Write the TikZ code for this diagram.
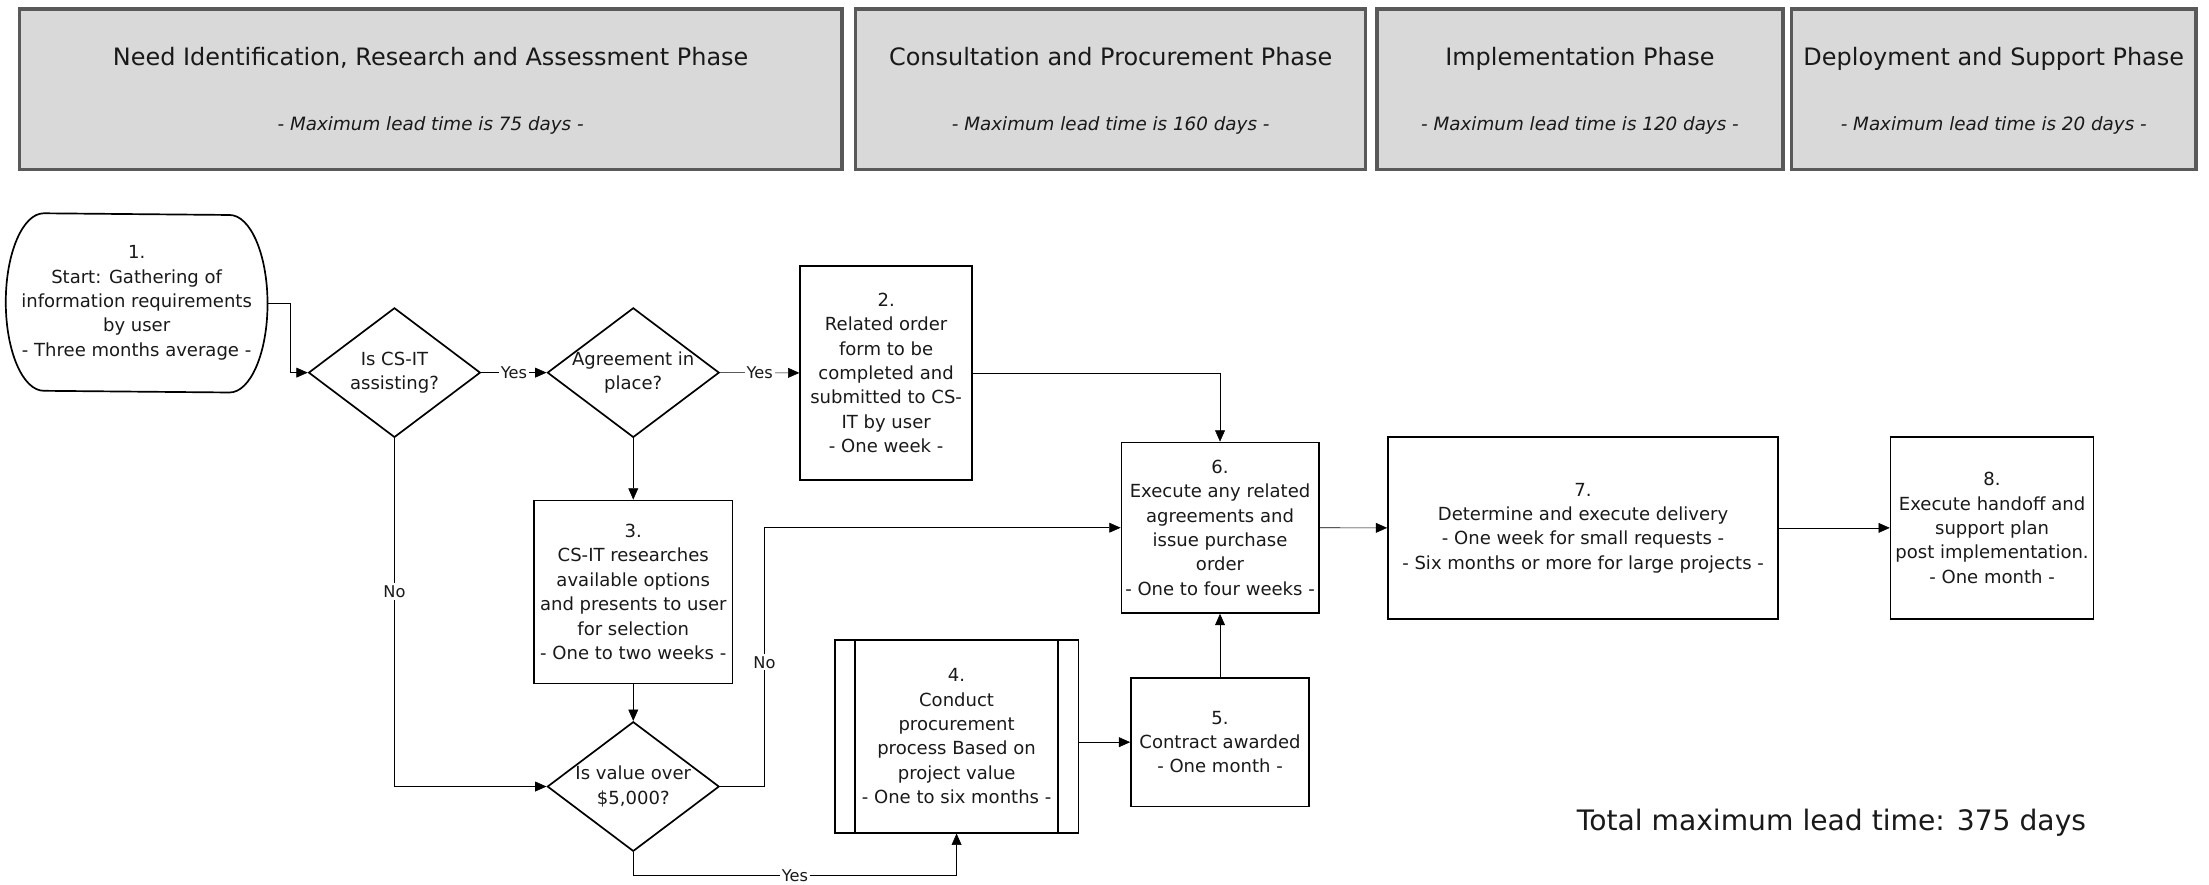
\documentclass[tikz,border=0pt]{standalone}
\usepackage{fontspec}
\setmainfont{DejaVu Sans}[ItalicFont={DejaVu Sans Oblique}]
\usetikzlibrary{shapes.geometric,arrows.meta}
\begin{document}
\begin{tikzpicture}[x=1pt,y=-1pt,>={Triangle[length=8pt,width=7pt]},
        every node/.style={text=black!90},
        phasebox/.style={draw=black!65,fill=black!15,line width=2.5pt,minimum height=114pt},
        phasetitle/.style={anchor=base,font=\fontsize{17}{20}\selectfont},
        phasetime/.style={anchor=base,font=\fontsize{13}{16}\selectfont\itshape},
        proc/.style={draw,line width=1.2pt,align=center,inner sep=0pt,font=\fontsize{12.8}{17.3}\selectfont},
        decision/.style={draw,diamond,line width=1.2pt,inner sep=0pt,minimum width=122pt,minimum height=92pt},
        dtext/.style={align=center,inner sep=0pt,font=\fontsize{12.8}{17.3}\selectfont},
        lbl/.style={fill=white,inner sep=1.5pt,font=\fontsize{11.5}{13}\selectfont}]
    \useasboundingbox (0,0) rectangle (1568,628);

    \node (p1) at (305.7,63.3) [phasebox,minimum width=584pt] {};
    \node (p2) at (788.4,63.3) [phasebox,minimum width=362pt] {};
    \node (p3) at (1121.5,63.3) [phasebox,minimum width=288pt] {};
    \node (p4) at (1415.2,63.3) [phasebox,minimum width=287pt] {};
    \node (p1t) at (305.7,46.5) [phasetitle] {Need Identification, Research and Assessment Phase};
    \node (p2t) at (788.4,46.5) [phasetitle] {Consultation and Procurement Phase};
    \node (p3t) at (1121.5,46.5) [phasetitle] {Implementation Phase};
    \node (p4t) at (1415.2,46.5) [phasetitle] {Deployment and Support Phase};
    \node (p1d) at (305.7,92.5) [phasetime] {- Maximum lead time is 75 days -};
    \node (p2d) at (788.4,92.5) [phasetime] {- Maximum lead time is 160 days -};
    \node (p3d) at (1121.5,92.5) [phasetime] {- Maximum lead time is 120 days -};
    \node (p4d) at (1415.2,92.5) [phasetime] {- Maximum lead time is 20 days -};

    \node (n1) at (97,215) [proc,draw=none,minimum width=184.6pt,minimum height=126pt] {1.\\Start: Gathering of\\information requirements\\by user\\- Three months average -};
    \draw[line width=1.2pt] ([xshift=27pt]n1.north west) arc[start angle=90,end angle=270,x radius=27pt,y radius=63pt]
        -- ([xshift=-27pt]n1.south east) arc[start angle=-90,end angle=90,x radius=27pt,y radius=63pt] -- cycle;

    \node (d1) at (280,264.5) [decision] {};
    \node (d1t) at (d1) [dtext] {Is CS-IT\\assisting?};
    \node (d2) at (449.5,264.5) [decision] {};
    \node (d2t) at (d2) [dtext] {Agreement in\\place?};
    \node (n2) at (629,264.7) [proc,minimum width=122pt,minimum height=152pt] {2.\\Related order\\form to be\\completed and\\submitted to CS-\\IT by user\\- One week -};
    \node (n3) at (449.5,420.2) [proc,minimum width=141pt,minimum height=130pt] {3.\\CS-IT researches\\available options\\and presents to user\\for selection\\- One to two weeks -};
    \node (d3) at (449.5,558.3) [decision] {};
    \node (d3t) at (d3) [dtext] {Is value over\\\$5,000?};
    \node (n4) at (679,522.6) [proc,minimum width=173pt,minimum height=137pt] {4.\\Conduct\\procurement\\process Based on\\project value\\- One to six months -};
    \draw[line width=1.2pt] ([xshift=15pt]n4.north west) -- ([xshift=15pt]n4.south west)
        ([xshift=-15pt]n4.north east) -- ([xshift=-15pt]n4.south east);
    \node (n5) at (866,526.8) [proc,minimum width=126.4pt,minimum height=91.5pt] {5.\\Contract awarded\\- One month -};
    \node (n6) at (866,374.6) [proc,minimum width=140pt,minimum height=121pt] {6.\\Execute any related\\agreements and\\issue purchase\\order\\- One to four weeks -};
    \node (n7) at (1123.7,374.7) [proc,minimum width=277pt,minimum height=129pt] {7.\\Determine and execute delivery\\- One week for small requests -\\- Six months or more for large projects -};
    \node (n8) at (1414,374.7) [proc,minimum width=144pt,minimum height=129pt] {8.\\Execute handoff and\\support plan\\post implementation.\\- One month -};

    \node (total) at (1300,584) [font=\fontsize{20}{24}\selectfont] {Total maximum lead time: 375 days};

    \draw[->] (n1.east) -- ++(16,0) |- (d1.west);
    \draw[->] (d1.east) -- node[lbl] {Yes} (d2.west);
    \draw[->] (d2.east) -- node[lbl] {Yes} (n2.west);
    \draw[->] (n2.east) -| (n6.north);
    \draw[->] (d2.south) -- (n3.north);
    \draw[->] (n3.south) -- (d3.north);
    \draw[->] (d1.south) |- node[pos=0.22,lbl] {No} (d3.west);
    \draw[->] (d3.east) -- ++(31.5,0) |- node[pos=0.24,lbl] {No} (n6.west);
    \draw[->] (d3.south) -- ++(0,16.5) -| node[pos=0.25,lbl] {Yes} (n4.south);
    \draw[->] (n4.east |- n5.west) -- (n5.west);
    \draw[->] (n5.north) -- (n6.south);
    \draw[->] (n6.east) -- (n7.west);
    \draw[->] (n7.east) -- (n8.west);
\end{tikzpicture}
\end{document}
